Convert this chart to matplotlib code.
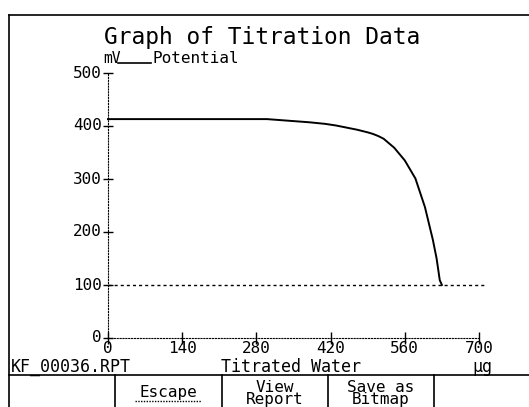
import matplotlib
matplotlib.use("Agg")
import matplotlib.pyplot as plt

# ---- data ----
water_ug = [0, 150, 300, 340, 380, 410, 430, 450, 470, 490, 500, 510, 520, 540, 560, 580, 598, 613, 620, 626, 630]
potential_mv = [413, 413, 413, 410, 407, 404, 401, 397, 393, 388, 385, 381, 376, 359, 335, 301, 247, 185, 150, 109, 100]
x_ticks = [0, 140, 280, 420, 560, 700]
y_ticks = [0, 100, 200, 300, 400, 500]
endpoint_mv = 100

title = "Graph of Titration Data"
file_name = "KF_00036.RPT"
x_label = "Titrated Water"
x_unit = "µg"

W, H = 529, 407
fig = plt.figure(figsize=(W / 100, H / 100), dpi=100)
fig.patch.set_facecolor("white")

FONT = "DejaVu Sans Mono"
SMALL = 12
TICK = 11.5
BTN = 11.5

# overlay axes in pixel coordinates
ov = fig.add_axes([0, 0, 1, 1])
ov.set_xlim(0, W)
ov.set_ylim(H, 0)
ov.axis("off")

lw = 1.2
ov.plot([9, 9], [15, H], color="black", lw=lw)
ov.plot([9, W], [15, 15], color="black", lw=lw)
ov.plot([9, W], [375, 375], color="black", lw=lw)
for xd in [115, 222, 328, 434]:
    ov.plot([xd, xd], [375, H], color="black", lw=lw)

ov.text(104, 44, title, fontsize=16.5, family=FONT, ha="left", va="baseline")
ov.text(103, 63, "mV", fontsize=10.5, family=FONT, ha="left", va="baseline")
ov.plot([118, 151], [63, 63], color="black", lw=1.2)
ov.text(152, 63, "Potential", fontsize=11.5, family=FONT, ha="left", va="baseline")

ov.text(11, 372, file_name, fontsize=SMALL, family=FONT, ha="left", va="baseline")
ov.text(291, 372, x_label, fontsize=SMALL, family=FONT, ha="center", va="baseline")
ov.text(482, 372, x_unit, fontsize=SMALL, family=FONT, ha="center", va="baseline")

ov.text(168, 397, "Escape", fontsize=BTN, family=FONT, ha="center", va="baseline")
ov.plot([135, 201], [401, 401], color="black", lw=1.0, ls=(0, (1, 1)))
ov.text(275, 380, "View\nReport", fontsize=BTN, family=FONT, ha="center", va="top",
        multialignment="center", linespacing=0.75)
ov.text(381, 380, "Save as\nBitmap", fontsize=BTN, family=FONT, ha="center", va="top",
        multialignment="center", linespacing=0.75)

# data axes: x 0->108px, 700->479px ; y 0->338px, 500->73px (from top)
x0, x1 = 108, 479
y0, y1 = 338, 73
ax = fig.add_axes([x0 / W, (H - y0) / H, (x1 - x0) / W, (y0 - y1) / H])
ax.set_facecolor("none")
ax.set_xlim(0, 700)
ax.set_ylim(0, 500)

ax.plot(water_ug, potential_mv, color="black", lw=1.4, clip_on=False)
ax.plot([0, 713], [endpoint_mv, endpoint_mv], color="black", lw=1.0,
        ls=(0, (2.2, 2.2)), clip_on=False)

for s in ["top", "right"]:
    ax.spines[s].set_visible(False)
for s in ["left", "bottom"]:
    ax.spines[s].set_linestyle((0, (1, 1.6)))
    ax.spines[s].set_linewidth(0.8)

ax.set_xticks(x_ticks)
ax.set_yticks(y_ticks)
ax.set_xticklabels([str(v) for v in x_ticks], family=FONT, fontsize=TICK)
ax.set_yticklabels([str(v) for v in y_ticks], family=FONT, fontsize=TICK)
ax.tick_params(axis="x", direction="inout", length=8, width=1.0, pad=-2)
ax.tick_params(axis="y", direction="inout", length=7, width=1.0, pad=1)
for lab in ax.get_yticklabels():
    lab.set_verticalalignment("center")

fig.savefig("out.png", dpi=100, facecolor="white")
